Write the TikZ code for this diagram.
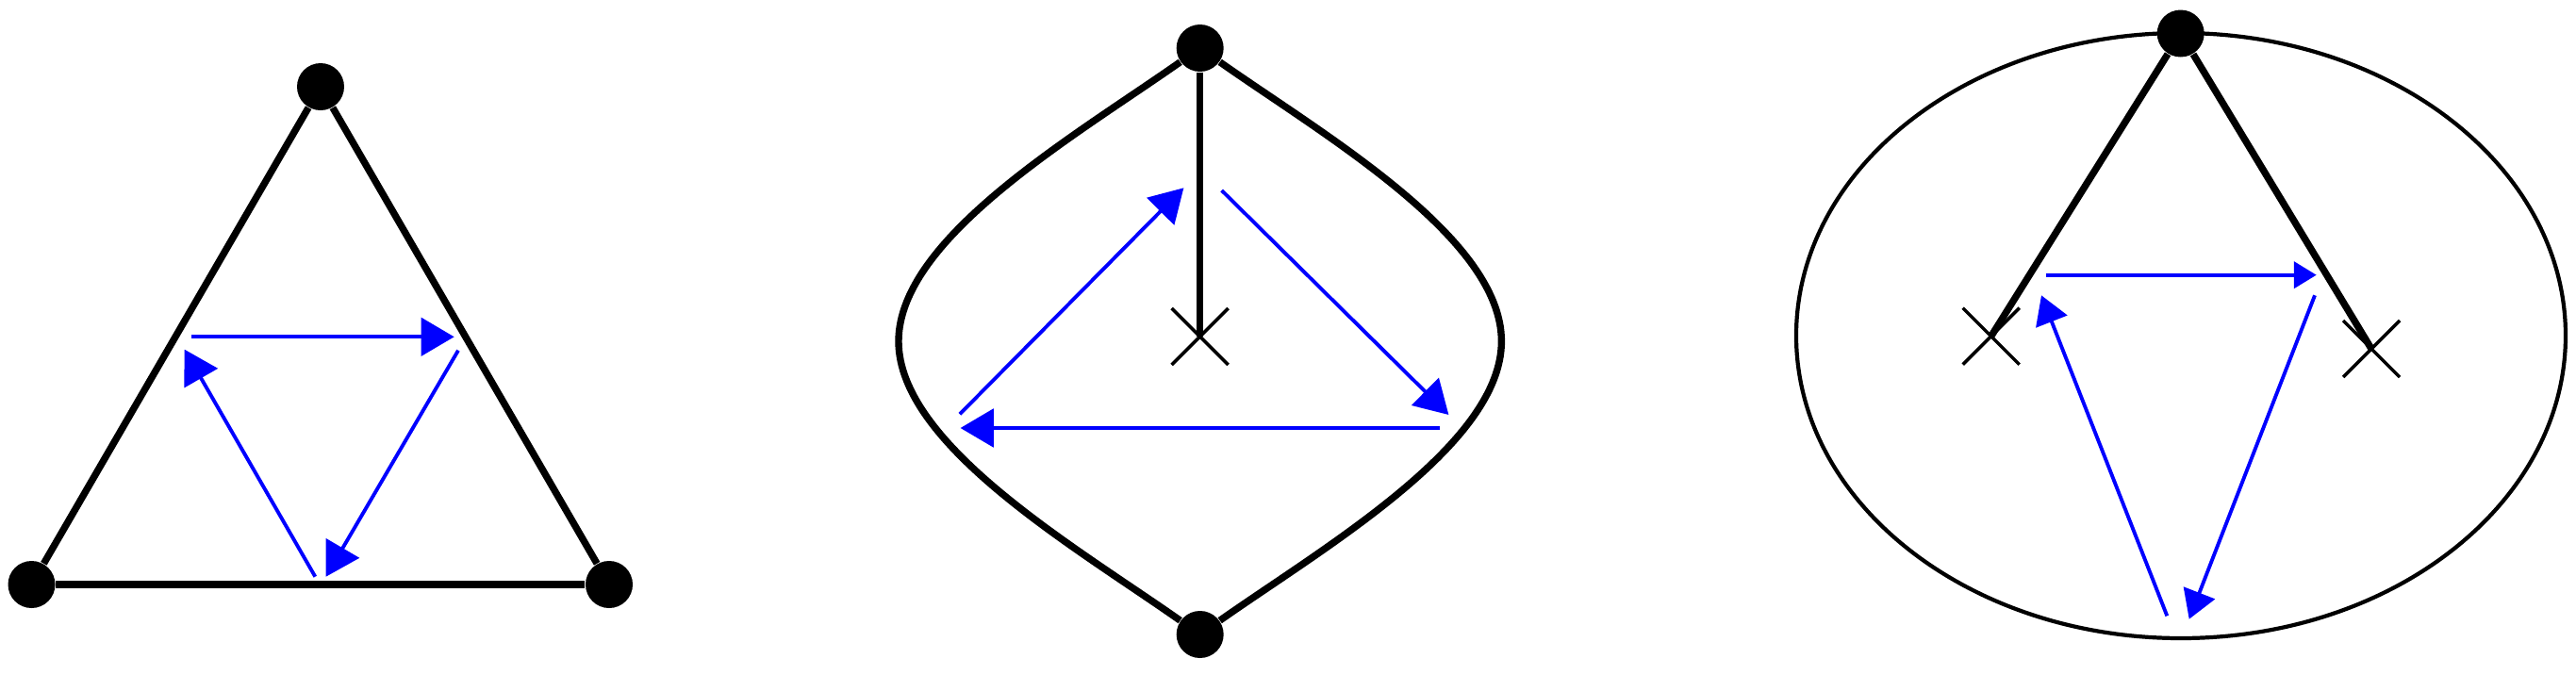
\documentclass[tikz,border=0pt]{standalone}
\usetikzlibrary{shapes.misc}
\usetikzlibrary{arrows.meta}
\tikzset{
    mydot/.style = {circle, fill=black, draw=none, minimum size=0.5cm, inner sep=0pt},
    mycross/.style = {cross out, draw=black, line width=1pt, minimum size=0.6cm, inner sep=0pt, outer sep=0pt},
    edgen/.style = {-,line width=2.1pt,black},
    edgee/.style = {-,line width=1.2pt,black},
    edgeb/.style = {-{Triangle[length=10pt,width=11.5pt]},line width=1.1pt,blue},
    edgebm/.style = {-{Triangle[length=8.5pt,width=10pt]},line width=1.1pt,blue},
    edgebs/.style = {-{Triangle[length=6.8pt,width=8pt]},line width=1.1pt,blue}
}

\begin{document}
\begin{tikzpicture}
% triangle
\node[mydot] at (3.40, 6.23) (a1) {};
\node[mydot] at (0.335, 0.95) (b1) {};
\node[mydot] at (6.46, 0.95) (c1) {};
%
\draw[edgen] (a1) edge node {} (b1);
\draw[edgen] (b1) edge node {} (c1);
\draw[edgen] (c1) edge node {} (a1);
%
\coordinate (p1) at (2.033, 3.577); \coordinate (q1) at (4.817, 3.577);
\coordinate (p2) at (4.86, 3.433);  \coordinate (q2) at (3.457, 1.033);
\coordinate (p3) at (3.343, 1.033); \coordinate (q3) at (1.957, 3.443);
\draw[edgeb] (p1) -- (q1);
\draw[edgeb] (p2) -- (q2);
\draw[edgeb] (p3) -- (q3);

% lens
\node[mydot] at (12.727, 6.64) (a2) {};
\node[mydot] at (12.727, 0.42) (b2) {};
\node[mycross] at (12.727, 3.58) (x2) {};
%
\draw[edgen] (a2) .. controls (11.42, 5.72) and (9.53, 4.63) .. (9.53, 3.53)
    .. controls (9.53, 2.43) and (11.42, 1.34) .. (b2);
\draw[edgen] (a2) .. controls (14.034, 5.72) and (15.924, 4.63) .. (15.924, 3.53)
    .. controls (15.924, 2.43) and (14.034, 1.34) .. (b2);
\draw[edgen] (a2) -- (x2.center);
%
\coordinate (p4) at (10.179, 2.757); \coordinate (q4) at (12.554, 5.157);
\coordinate (p5) at (12.957, 5.13);  \coordinate (q5) at (15.364, 2.75);
\coordinate (p6) at (15.268, 2.61);  \coordinate (q6) at (10.186, 2.61);
\draw[edgeb] (p4) -- (q4);
\draw[edgeb] (p5) -- (q5);
\draw[edgeb] (p6) -- (q6);

% ellipse
\draw[edgee] (23.13, 3.59) ellipse (4.08 and 3.21);
\node[mydot] at (23.127, 6.795) (a3) {};
\node[mycross] at (21.117, 3.583) (x3) {};
\node[mycross] at (25.15, 3.45) (y3) {};
%
\draw[edgen] (a3) -- (x3.center);
\draw[edgen] (a3) -- (y3.center);
%
\coordinate (p7) at (21.70, 4.233); \coordinate (q7) at (24.567, 4.233);
\coordinate (p8) at (24.55, 4.017); \coordinate (q8) at (23.217, 0.583);
\coordinate (p9) at (22.983, 0.617); \coordinate (q9) at (21.65, 4.017);
\draw[edgebs] (p7) -- (q7);
\draw[edgebm] (p8) -- (q8);
\draw[edgebm] (p9) -- (q9);

\path[use as bounding box] (0, 0) rectangle (27.32, 7.15);
\end{tikzpicture}
\end{document}
